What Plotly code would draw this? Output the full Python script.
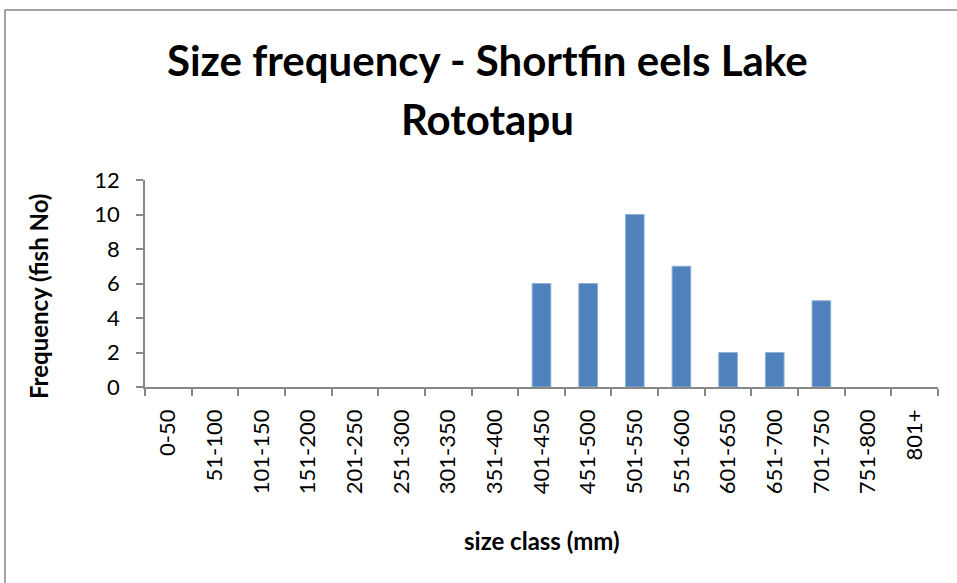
import plotly.graph_objects as go

categories = ["0-50", "51-100", "101-150", "151-200", "201-250", "251-300", "301-350",
              "351-400", "401-450", "451-500", "501-550", "551-600", "601-650", "651-700",
              "701-750", "751-800", "801+"]
counts = [0, 0, 0, 0, 0, 0, 0, 0, 6, 6, 10, 7, 2, 2, 5, 0, 0]
y_ticks = [0, 2, 4, 6, 8, 10, 12]
title_lines = ["Size frequency - Shortfin eels Lake", "Rototapu"]

FONT = "Lato"

fig = go.Figure()
fig.add_trace(go.Bar(x=categories, y=counts,
                     marker=dict(color="#4F81BD",
                                 line=dict(width=1,
                                           color=["#8FB0D8" if c > 0 else "rgba(0,0,0,0)"
                                                  for c in counts]))))

L, R, T, B = 145, 19, 180, 196
W, H = 957, 583
pw = W - L - R
ph = H - T - B


def px_x(x):
    return (x - L) / pw


def px_y(y):
    return (H - B - y) / ph


fig.update_layout(
    width=W, height=H,
    margin=dict(l=L, r=R, t=T, b=B, pad=0),
    paper_bgcolor="white", plot_bgcolor="white",
    bargap=0.6,
    showlegend=False,
    font=dict(family=FONT, color="black"),
    xaxis=dict(
        type="category", tickangle=-90, showline=True, linecolor="#888888", linewidth=1.5,
        ticks="outside", ticklen=7, tickcolor="#888888", tickwidth=1.5, tickson="boundaries",
        ticklabelstandoff=12,
        tickfont=dict(size=22, family=FONT), showgrid=False, zeroline=False,
        range=[-0.5, len(categories) - 0.5],
    ),
    yaxis=dict(
        range=[0, 12], tickvals=y_ticks, showline=True, linecolor="#888888", linewidth=1.5,
        ticks="outside", ticklen=7, tickcolor="#888888", tickwidth=1.5,
        ticklabelstandoff=12, showgrid=False, zeroline=False,
        tickfont=dict(size=22, family=FONT),
    ),
)

# title lines
fig.add_annotation(text="<b>" + title_lines[0] + "</b>", xref="paper", yref="paper",
                   x=px_x(487), y=px_y(60), xanchor="center", yanchor="middle",
                   showarrow=False, font=dict(size=42, family=FONT, color="black"))
fig.add_annotation(text="<b>" + title_lines[1] + "</b>", xref="paper", yref="paper",
                   x=px_x(487), y=px_y(119), xanchor="center", yanchor="middle",
                   showarrow=False, font=dict(size=42, family=FONT, color="black"))
# axis titles
fig.add_annotation(text="<b>size class (mm)</b>", xref="paper", yref="paper",
                   x=px_x(542), y=px_y(540), xanchor="center", yanchor="middle",
                   showarrow=False, font=dict(size=24, family=FONT, color="black"))
fig.add_annotation(text="<b>Frequency (fish No)</b>", xref="paper", yref="paper",
                   x=px_x(38), y=px_y(297), xanchor="center", yanchor="middle", textangle=-90,
                   showarrow=False, font=dict(size=24, family=FONT, color="black"))

# outer chart frame (extends beyond the visible area on right/bottom)
fig.add_shape(type="rect", xref="paper", yref="paper",
              x0=px_x(5), x1=px_x(W + 50),
              y0=px_y(H + 50), y1=px_y(10),
              line=dict(color="#888888", width=1.5), fillcolor="rgba(0,0,0,0)", layer="below")

fig.write_html("out.html", config={"displayModeBar": False},
               post_script="document.body.style.margin='0';document.body.style.overflow='hidden';")
